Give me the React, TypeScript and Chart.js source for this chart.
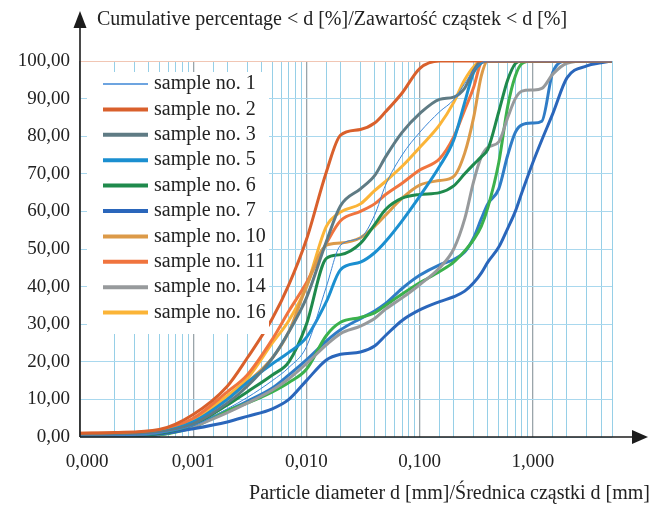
import React, { useEffect, useRef } from 'react';
import { Chart, registerables } from 'chart.js';

Chart.register(...registerables);

// particle diameters d [mm] (categories)
const diameters = [0.0001, 0.0002, 0.0005, 0.001, 0.002, 0.003, 0.005, 0.007, 0.01, 0.015, 0.02, 0.03, 0.04, 0.05, 0.07, 0.1, 0.15, 0.2, 0.25, 0.3, 0.35, 0.4, 0.5, 0.6, 0.7, 0.8, 1, 1.2, 1.5, 2, 3, 4, 5];

// cumulative percentage < d [%]
const sample1 = [0.2, 0.3, 1.0, 3.0, 7.5, 10.5, 15.0, 18.5, 24.0, 40.0, 51.0, 53.0, 59.0, 67.0, 75.0, 81.0, 86.5, 89.7, 94.0, 97.5, 99.5, 100, 100, 100, 100, 100, 100, 100, 100, 100, 100, 100, 100];
const sample2 = [1.0, 1.2, 2.0, 6.0, 13.5, 21.0, 31.5, 40.5, 52.5, 70.5, 80.3, 81.8, 83.5, 86.5, 91.5, 98.0, 100, 100, 100, 100, 100, 100, 100, 100, 100, 100, 100, 100, 100, 100, 100, 100, 100];
const sample3 = [0.3, 0.4, 1.2, 3.5, 9.0, 13.5, 21.0, 28.0, 37.0, 52.0, 61.5, 66.0, 69.5, 74.5, 81.0, 86.0, 89.8, 90.4, 92.8, 97.5, 100, 100, 100, 100, 100, 100, 100, 100, 100, 100, 100, 100, 100];
const sample5 = [0.2, 0.3, 1.2, 4.0, 10.0, 14.5, 19.5, 22.5, 26.5, 36.0, 44.5, 46.5, 49.0, 52.0, 57.5, 64.0, 72.0, 79.0, 89.0, 97.0, 99.5, 100, 100, 100, 100, 100, 100, 100, 100, 100, 100, 100, 100];
const sample6 = [0.1, 0.2, 1.0, 3.3, 8.5, 12.0, 16.5, 20.0, 30.0, 47.5, 48.5, 51.5, 56.5, 60.5, 63.5, 64.5, 65.0, 66.8, 70.0, 72.5, 74.5, 76.5, 86.5, 95.0, 99.3, 100, 100, 100, 100, 100, 100, 100, 100];
const sample7 = [0.0, 0.1, 0.8, 2.2, 4.0, 5.5, 7.5, 10.0, 15.0, 20.5, 22.0, 22.6, 24.2, 27.0, 31.0, 33.8, 36.0, 37.3, 38.8, 41.0, 43.6, 46.5, 50.5, 55.5, 60.0, 65.0, 73.0, 79.0, 86.0, 95.5, 98.7, 99.5, 100];
const sample10 = [0.5, 0.6, 1.3, 4.0, 10.0, 14.5, 21.0, 28.0, 40.0, 51.0, 51.6, 53.0, 56.0, 59.0, 63.5, 67.0, 68.2, 69.3, 75.5, 85.0, 96.0, 100, 100, 100, 100, 100, 100, 100, 100, 100, 100, 100, 100];
const sample11 = [1.0, 1.1, 1.8, 5.0, 12.0, 16.5, 26.0, 33.5, 41.0, 51.5, 57.5, 60.0, 62.0, 64.5, 67.5, 71.0, 74.0, 79.8, 87.0, 93.0, 99.5, 100, 100, 100, 100, 100, 100, 100, 100, 100, 100, 100, 100];
const sample14 = [0.0, 0.1, 0.7, 2.8, 6.5, 9.0, 12.5, 15.5, 19.5, 24.5, 27.5, 29.5, 31.5, 34.0, 37.0, 40.5, 45.0, 50.0, 58.0, 68.0, 74.5, 77.0, 78.5, 85.0, 90.0, 92.0, 92.3, 92.7, 96.5, 99.4, 100, 100, 100];
const sample16 = [0.5, 0.6, 1.4, 4.5, 11.0, 15.5, 25.0, 31.0, 40.0, 56.0, 59.8, 62.0, 65.5, 68.0, 72.0, 77.0, 83.0, 89.0, 95.0, 98.5, 100, 100, 100, 100, 100, 100, 100, 100, 100, 100, 100, 100, 100];
// two curves shown in the plot without a legend entry
const extraGreen = [0.0, 0.1, 0.6, 2.6, 7.0, 9.0, 12.0, 14.5, 18.0, 27.0, 30.5, 31.8, 33.0, 35.0, 38.0, 41.0, 44.0, 46.5, 49.5, 52.5, 56.0, 61.0, 73.0, 88.0, 96.0, 99.3, 100, 100, 100, 100, 100, 100, 100];
const extraBlue = [0.0, 0.1, 0.6, 3.0, 7.0, 9.5, 13.0, 16.5, 20.5, 25.5, 28.5, 31.5, 33.5, 35.5, 39.5, 43.0, 45.8, 47.2, 49.2, 53.0, 58.0, 62.0, 66.0, 75.0, 81.0, 83.0, 83.5, 84.0, 97.0, 100, 100, 100, 100];

const yTickValues = [0, 10, 20, 30, 40, 50, 60, 70, 80, 90, 100];
const xTickLabelValues = [0.0001, 0.001, 0.01, 0.1, 1];

const yTitle = 'Cumulative percentage < d [%]/Zawartość cząstek < d [%]';
const xTitle = 'Particle diameter d [mm]/Średnica cząstki d [mm]';

type S = { label: string; data: number[]; color: string; width: number; legend: boolean };
const series: S[] = [
  { label: 'sample no. 1', data: sample1, color: '#3d86d6', width: 1, legend: true },
  { label: 'sample no. 2', data: sample2, color: '#d9602c', width: 3, legend: true },
  { label: 'sample no. 3', data: sample3, color: '#5f7b84', width: 3, legend: true },
  { label: 'sample no. 5', data: sample5, color: '#1b8fd0', width: 3, legend: true },
  { label: 'sample no. 6', data: sample6, color: '#1f8a4c', width: 3, legend: true },
  { label: 'sample no. 7', data: sample7, color: '#2a66bb', width: 3, legend: true },
  { label: 'sample no. 10', data: sample10, color: '#dc9a48', width: 3, legend: true },
  { label: 'sample no. 11', data: sample11, color: '#f0743e', width: 3, legend: true },
  { label: 'sample no. 14', data: sample14, color: '#979a9c', width: 3, legend: true },
  { label: 'sample no. 16', data: sample16, color: '#fbb437', width: 3, legend: true },
  { label: 'unlabelled (green)', data: extraGreen, color: '#3bb14c', width: 3, legend: false },
  { label: 'unlabelled (blue)', data: extraBlue, color: '#2f7cc6', width: 3, legend: false },
];

const FONT = '"Liberation Serif", "Times New Roman", serif';
const isDecade = (v: number) => xTickLabelValues.some((d) => Math.abs(v - d) / d < 1e-6);
const fmtX = (v: number) => (v < 0.0005 ? '   ' : '') + v.toFixed(3).replace('.', ',');
const fmtY = (v: number) => v.toFixed(2).replace('.', ',');

const decorPlugin = {
  id: 'decor',
  afterDraw(chart: any) {
    const { ctx, chartArea: a } = chart;
    ctx.save();
    ctx.strokeStyle = '#1c1c1c';
    ctx.fillStyle = '#1c1c1c';
    ctx.lineWidth = 1.6;
    // y axis with arrow
    ctx.beginPath();
    ctx.moveTo(a.left, a.bottom);
    ctx.lineTo(a.left, a.top - 34);
    ctx.stroke();
    ctx.beginPath();
    ctx.moveTo(a.left, a.top - 50);
    ctx.lineTo(a.left - 6.5, a.top - 33);
    ctx.lineTo(a.left + 6.5, a.top - 33);
    ctx.closePath();
    ctx.fill();
    // x axis with arrow
    ctx.beginPath();
    ctx.moveTo(a.left, a.bottom);
    ctx.lineTo(a.right + 21, a.bottom);
    ctx.stroke();
    ctx.beginPath();
    ctx.moveTo(a.right + 36, a.bottom);
    ctx.lineTo(a.right + 20, a.bottom - 7);
    ctx.lineTo(a.right + 20, a.bottom + 7);
    ctx.closePath();
    ctx.fill();
    // titles
    ctx.font = '20px ' + FONT;
    ctx.fillStyle = '#222';
    ctx.textBaseline = 'middle';
    ctx.textAlign = 'left';
    ctx.fillText(yTitle, a.left + 17, a.top - 41);
    ctx.textAlign = 'right';
    ctx.fillText(xTitle, a.right + 38, a.bottom + 57);
    // legend box inside the plot
    const entries = chart.data.datasets.filter((d: any) => d.showInLegend);
    const bx = a.left + 7, by = a.top + 11, bw = 182, step = 25.4;
    const bh = entries.length * step + 8;
    ctx.fillStyle = '#ffffff';
    ctx.fillRect(bx, by, bw, bh);
    entries.forEach((d: any, i: number) => {
      const y = by + 12 + i * step;
      ctx.strokeStyle = d.borderColor;
      ctx.lineWidth = d.borderWidth > 1 ? 4 : 1.5;
      ctx.beginPath();
      ctx.moveTo(bx + 16, y);
      ctx.lineTo(bx + 61, y);
      ctx.stroke();
      ctx.fillStyle = '#222';
      ctx.textAlign = 'left';
      ctx.fillText(d.label, bx + 67, y);
    });
    ctx.restore();
  },
};

export default function App() {
  const ref = useRef<HTMLCanvasElement | null>(null);
  useEffect(() => {
    if (!ref.current) return;
    const chart = new Chart(ref.current, {
      type: 'line',
      data: {
        datasets: series.map((s) => ({
          label: s.label,
          data: diameters.map((d, i) => ({ x: d, y: s.data[i] })),
          borderColor: s.color,
          backgroundColor: s.color,
          borderWidth: s.width,
          pointRadius: 0,
          cubicInterpolationMode: 'monotone',
          fill: false,
          showInLegend: s.legend,
        })) as any,
      },
      options: {
        responsive: false,
        animation: false,
        layout: { padding: { left: 0, right: 40, top: 61, bottom: 0 } },
        plugins: { legend: { display: false }, title: { display: false }, tooltip: { enabled: false } },
        scales: {
          x: {
            type: 'logarithmic',
            min: 0.0001,
            max: 5,
            afterFit: (s: any) => { s.height = 69; },
            border: { display: false },
            grid: {
              drawTicks: false,
              color: (c: any) => (c.tick && isDecade(c.tick.value) ? '#9aa5aa' : '#96cfe7'),
              lineWidth: (c: any) => (c.tick && isDecade(c.tick.value) ? 1.3 : 1),
            },
            ticks: {
              autoSkip: false,
              maxRotation: 0,
              padding: 14,
              color: '#222',
              font: { family: FONT, size: 19 },
              callback: (v: any) => (isDecade(Number(v)) ? fmtX(Number(v)) : ''),
            },
          },
          y: {
            min: 0,
            max: 100,
            afterFit: (s: any) => { s.width = 80; },
            afterBuildTicks: (s: any) => { s.ticks = yTickValues.map((v) => ({ value: v })); },
            border: { display: false },
            grid: {
              drawTicks: false,
              color: (c: any) => (c.tick && c.tick.value === 100 ? '#f1c6b4' : '#a9d8ee'),
            },
            ticks: {
              padding: 10,
              color: '#222',
              font: { family: FONT, size: 19 },
              callback: (v: any) => fmtY(Number(v)),
            },
          },
        },
      },
      plugins: [decorPlugin],
    });
    return () => chart.destroy();
  }, []);
  return (
    <div style={{ position: 'absolute', left: 0, top: 0, width: 652, height: 506, background: '#fff' }}>
      <canvas ref={ref} width={652} height={506} />
    </div>
  );
}
